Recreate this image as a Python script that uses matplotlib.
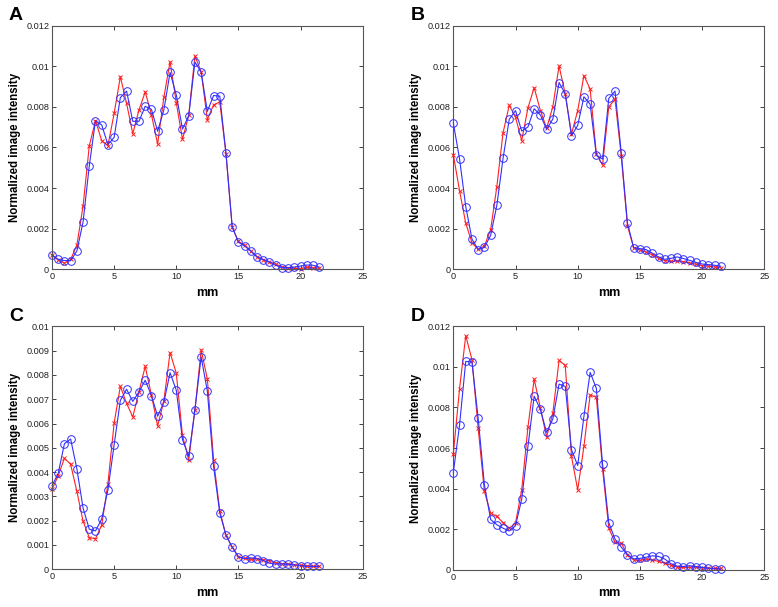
import numpy as np
import matplotlib
matplotlib.use("Agg")
import matplotlib.pyplot as plt
from matplotlib.ticker import FuncFormatter

plt.rcParams['font.family'] = ['Liberation Sans', 'DejaVu Sans']

mm = [i * 0.5 for i in range(44)]

a_blue = [0.00071, 0.00049, 0.00043, 0.00043, 0.00090, 0.00233, 0.00510, 0.00732, 0.00711, 0.00614,
          0.00650, 0.00846, 0.00878, 0.00729, 0.00729, 0.00803, 0.00788, 0.00680, 0.00785, 0.00970,
          0.00859, 0.00691, 0.00755, 0.01021, 0.00972, 0.00778, 0.00856, 0.00853, 0.00571, 0.00209,
          0.00133, 0.00115, 0.00089, 0.00061, 0.00048, 0.00036, 0.00020, 0.00008, 0.00008, 0.00011,
          0.00016, 0.00021, 0.00020, 0.00011]
a_red = [0.00070, 0.00046, 0.00030, 0.00049, 0.00118, 0.00312, 0.00608, 0.00732, 0.00634, 0.00609,
         0.00768, 0.00949, 0.00818, 0.00668, 0.00785, 0.00874, 0.00762, 0.00617, 0.00847, 0.01023,
         0.00821, 0.00640, 0.00759, 0.01051, 0.00974, 0.00737, 0.00810, 0.00824, 0.00568, 0.00207,
         0.00138, 0.00118, 0.00090, 0.00062, 0.00048, 0.00036, 0.00025, 0.00013, 0.00005, 0.00005,
         0.00003, 0.00010, 0.00008, 0.00005]

b_blue = [0.00721, 0.00545, 0.00309, 0.00149, 0.00097, 0.00108, 0.00167, 0.00315, 0.00547, 0.00739,
          0.00782, 0.00681, 0.00701, 0.00791, 0.00760, 0.00690, 0.00740, 0.00920, 0.00864, 0.00658,
          0.00709, 0.00850, 0.00813, 0.00561, 0.00543, 0.00842, 0.00878, 0.00575, 0.00227, 0.00107,
          0.00102, 0.00097, 0.00079, 0.00061, 0.00049, 0.00054, 0.00061, 0.00053, 0.00044, 0.00034,
          0.00026, 0.00023, 0.00020, 0.00015]
b_red = [0.00565, 0.00388, 0.00227, 0.00131, 0.00099, 0.00115, 0.00195, 0.00407, 0.00673, 0.00808,
         0.00749, 0.00634, 0.00795, 0.00895, 0.00782, 0.00695, 0.00801, 0.01002, 0.00864, 0.00667,
         0.00782, 0.00954, 0.00888, 0.00568, 0.00514, 0.00801, 0.00837, 0.00558, 0.00215, 0.00105,
         0.00095, 0.00085, 0.00072, 0.00054, 0.00043, 0.00039, 0.00041, 0.00038, 0.00031, 0.00025,
         0.00018, 0.00016, 0.00011, 0.00008]

c_blue = [0.00344, 0.00395, 0.00517, 0.00536, 0.00414, 0.00252, 0.00165, 0.00158, 0.00207, 0.00326,
          0.00513, 0.00695, 0.00741, 0.00691, 0.00730, 0.00778, 0.00715, 0.00630, 0.00687, 0.00809,
          0.00737, 0.00534, 0.00465, 0.00656, 0.00874, 0.00733, 0.00424, 0.00232, 0.00140, 0.00091,
          0.00051, 0.00044, 0.00047, 0.00044, 0.00036, 0.00025, 0.00022, 0.00022, 0.00021, 0.00018,
          0.00015, 0.00012, 0.00012, 0.00012]
c_red = [0.00329, 0.00385, 0.00457, 0.00432, 0.00321, 0.00198, 0.00130, 0.00126, 0.00182, 0.00353,
         0.00602, 0.00753, 0.00683, 0.00627, 0.00731, 0.00835, 0.00717, 0.00590, 0.00693, 0.00892,
         0.00807, 0.00551, 0.00450, 0.00656, 0.00903, 0.00783, 0.00451, 0.00240, 0.00140, 0.00091,
         0.00052, 0.00045, 0.00041, 0.00044, 0.00040, 0.00036, 0.00027, 0.00023, 0.00022, 0.00019,
         0.00016, 0.00014, 0.00012, 0.00012]

d_blue = [0.00478, 0.00712, 0.01027, 0.01024, 0.00746, 0.00419, 0.00248, 0.00222, 0.00205, 0.00191,
          0.00217, 0.00348, 0.00608, 0.00856, 0.00790, 0.00677, 0.00743, 0.00915, 0.00904, 0.00592,
          0.00514, 0.00756, 0.00973, 0.00894, 0.00519, 0.00232, 0.00151, 0.00112, 0.00074, 0.00054,
          0.00056, 0.00062, 0.00069, 0.00066, 0.00053, 0.00030, 0.00018, 0.00016, 0.00020, 0.00016,
          0.00012, 0.00008, 0.00005, 0.00003]
d_red = [0.00570, 0.00891, 0.01154, 0.01036, 0.00697, 0.00386, 0.00279, 0.00263, 0.00233, 0.00205,
         0.00230, 0.00394, 0.00703, 0.00940, 0.00797, 0.00654, 0.00772, 0.01032, 0.01007, 0.00559,
         0.00394, 0.00608, 0.00862, 0.00850, 0.00496, 0.00205, 0.00135, 0.00131, 0.00074, 0.00049,
         0.00046, 0.00053, 0.00049, 0.00041, 0.00033, 0.00023, 0.00013, 0.00012, 0.00012, 0.00013,
         0.00010, 0.00008, 0.00007, 0.00007]

panels = [
    ("A", a_blue, a_red, 0.012, 0.002),
    ("B", b_blue, b_red, 0.012, 0.002),
    ("C", c_blue, c_red, 0.010, 0.001),
    ("D", d_blue, d_red, 0.012, 0.002),
]

W, H = 778, 607
fig = plt.figure(figsize=(W / 100, H / 100), dpi=100)

# pixel boxes: left, top, right, bottom
boxes = [
    (52, 25.7, 362.7, 269.3),
    (453.3, 25.7, 764.3, 269.3),
    (52, 326.3, 362.7, 569.3),
    (453.3, 326.3, 764.3, 569.8),
]

def fmt(v, pos):
    if abs(v) < 1e-12:
        return "0"
    return ("%.3f" % v).rstrip("0")

for (letter, blue, red, ymax, ystep), (l, t, r, b) in zip(panels, boxes):
    ax = fig.add_axes([l / W, 1 - b / H, (r - l) / W, (b - t) / H])
    ax.plot(mm, red, color="#ff2020", lw=0.8, marker="x", ms=3.2, mew=0.7, clip_on=False)
    ax.plot(mm, blue, color="#3030ff", lw=0.8, marker="o", ms=5.5, mfc="none", mew=0.7, clip_on=False)
    ax.set_xlim(0, 25)
    ax.set_ylim(0, ymax)
    ax.set_xticks([0, 5, 10, 15, 20, 25])
    ax.set_yticks(np.arange(0, ymax + ystep / 2, ystep))
    ax.yaxis.set_major_formatter(FuncFormatter(fmt))
    ax.tick_params(direction="in", length=3, width=0.6, labelsize=6.6, pad=2,
                   top=True, right=True, colors="#222222")
    for s in ax.spines.values():
        s.set_color("#555555")
        s.set_linewidth(0.8)
    ax.set_xlabel("mm", fontsize=9, fontweight="bold", labelpad=4)
    ax.set_ylabel("Normalized image intensity", fontsize=8.3, fontweight="bold", labelpad=4)
    fig.text((l - 43) / W, 1 - (t - 10) / H, letter, fontsize=14, fontweight="bold",
             ha="left", va="center")

fig.savefig("out.png", dpi=100)
